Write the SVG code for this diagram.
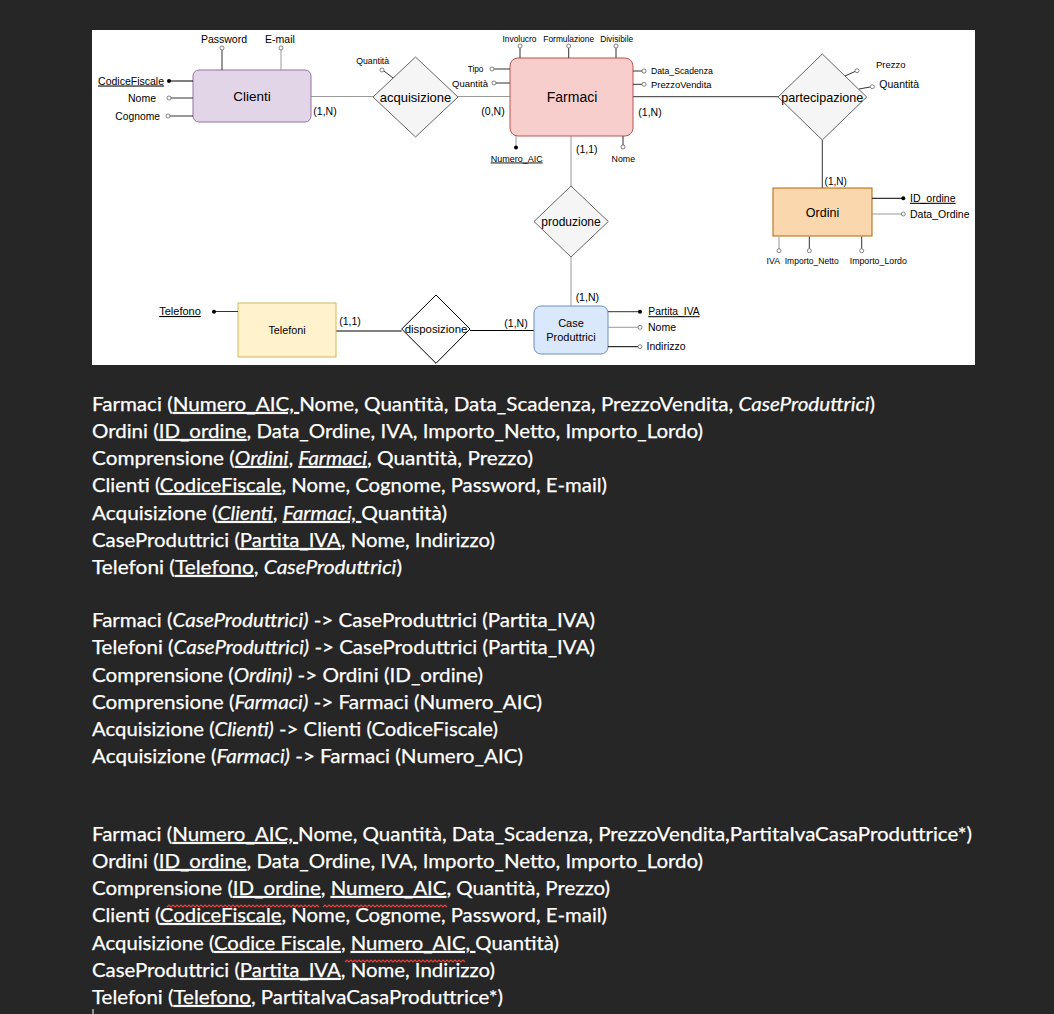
<svg xmlns="http://www.w3.org/2000/svg" width="1054" height="1014" viewBox="0 0 1054 1014">
<defs>
<style>
.ln{stroke:#333;stroke-width:1;fill:none}
.lg{stroke:#9a9a9a;stroke-width:1;fill:none}
.lk{stroke:#000;stroke-width:1;fill:none}
.oc{fill:#fff;stroke:#666;stroke-width:0.8}
.dt{fill:#000}
.t{font-family:"Liberation Sans",Arial,sans-serif;fill:#000}
.m{text-anchor:middle}
.e{text-anchor:end}
.u{text-decoration:underline}
.dia{fill:#f5f5f5;stroke:#666;stroke-width:1;stroke-linejoin:round}
.doc{font-family:Lato,"Noto Sans",sans-serif;font-size:19.5px;fill:#fff;stroke:#fff;stroke-width:0.25}
.i{font-style:italic}
.sq{stroke:#e8413b;stroke-width:1.1;fill:none}
</style>
</defs>
<rect x="0" y="0" width="1054" height="1014" fill="#262626"/>
<rect x="92" y="30" width="883" height="335" fill="#fff"/>

<g id="connectors">
<line class="lg" x1="311" y1="96.5" x2="373" y2="96.5"/>
<line class="lg" x1="458" y1="96.5" x2="510" y2="96.5"/>
<line class="ln" x1="633" y1="96.7" x2="778" y2="96.7"/>
<line class="lg" x1="571" y1="136" x2="571" y2="186"/>
<line class="ln" x1="822.3" y1="140" x2="822.3" y2="188"/>
<line class="lg" x1="571" y1="257" x2="571" y2="306"/>
<line class="lk" x1="470" y1="330.5" x2="534" y2="330.5"/>
<line class="lk" x1="336" y1="331" x2="401.7" y2="331"/>
<g class="t" font-size="10.5">
<text class="m" x="325" y="115">(1,N)</text>
<text class="m" x="493" y="115">(0,N)</text>
<text class="m" x="650" y="115.5">(1,N)</text>
<text class="m" x="586.7" y="153">(1,1)</text>
<text class="m" x="835.7" y="184.5" font-size="10">(1,N)</text>
<text class="m" x="587.3" y="300.5">(1,N)</text>
<text class="m" x="516" y="326.5">(1,N)</text>
<text class="m" x="350" y="324.5">(1,1)</text>
</g>
</g>

<g id="clienti">
<rect x="193" y="70" width="118" height="52" rx="6" fill="#e1d5e7" stroke="#9673a6"/>
<text class="t m" x="252" y="101" font-size="13.5">Clienti</text>
<line class="ln" x1="222" y1="50" x2="222" y2="70"/>
<circle class="oc" cx="222" cy="48" r="2"/>
<text class="t m" x="224" y="43" font-size="10.5">Password</text>
<line class="lg" x1="281" y1="50" x2="281" y2="70"/>
<circle class="oc" cx="281" cy="48" r="2"/>
<text class="t m" x="280" y="43" font-size="10.5">E-mail</text>
<line class="lk" x1="169" y1="81" x2="193" y2="81"/>
<circle class="dt" cx="169" cy="81" r="2"/>
<text class="t e u" x="164" y="84.5" font-size="10.5">CodiceFiscale</text>
<line class="ln" x1="171" y1="98" x2="193" y2="98"/>
<circle class="oc" cx="169" cy="98" r="2"/>
<text class="t e" x="156" y="101.5" font-size="10.5">Nome</text>
<line class="ln" x1="170" y1="116" x2="193" y2="116"/>
<circle class="oc" cx="168" cy="116" r="2"/>
<text class="t e" x="160" y="119.5" font-size="10.3">Cognome</text>
</g>

<g id="acquisizione">
<polygon class="dia" points="373,97 415.5,57 458,97 415.5,137"/>
<text class="t m" x="415.5" y="101.5" font-size="13" fill="#333">acquisizione</text>
<line class="ln" x1="384" y1="71" x2="393" y2="78"/>
<circle class="oc" cx="382" cy="70" r="2"/>
<text class="t m" x="372.7" y="64" font-size="8.7">Quantità</text>
</g>

<g id="farmaci">
<rect x="510" y="58" width="123" height="78" rx="8" fill="#f8cecc" stroke="#b85450"/>
<text class="t m" x="572" y="102" font-size="14">Farmaci</text>
<line class="ln" x1="520" y1="48" x2="520" y2="58"/>
<circle class="oc" cx="520" cy="46" r="2"/>
<text class="t m" x="519.5" y="42" font-size="8.4">Involucro</text>
<line class="ln" x1="568.7" y1="48" x2="568.7" y2="58"/>
<circle class="oc" cx="568.7" cy="46" r="2"/>
<text class="t m" x="568.7" y="42" font-size="8.4">Formulazione</text>
<line class="ln" x1="616" y1="48" x2="616" y2="58"/>
<circle class="oc" cx="616" cy="46" r="2"/>
<text class="t m" x="616.7" y="42" font-size="8.4">Divisibile</text>
<line class="ln" x1="494" y1="69" x2="510" y2="69"/>
<circle class="oc" cx="492" cy="69" r="2"/>
<text class="t e" x="483.5" y="72" font-size="8.3">Tipo</text>
<line class="ln" x1="496" y1="83" x2="510" y2="83"/>
<circle class="oc" cx="494" cy="83" r="2"/>
<text class="t e" x="488" y="86.5" font-size="9.5">Quantità</text>
<line class="lg" x1="516" y1="136" x2="516" y2="147"/>
<circle class="dt" cx="516" cy="147.5" r="2"/>
<text class="t m u" x="516.7" y="161.5" font-size="9">Numero_AIC</text>
<line class="ln" x1="623" y1="136" x2="623" y2="145"/>
<circle class="oc" cx="623" cy="147" r="2"/>
<text class="t m" x="623.3" y="161.5" font-size="8.8">Nome</text>
<line class="ln" x1="633" y1="71" x2="642" y2="71"/>
<circle class="oc" cx="644" cy="71" r="2"/>
<text class="t" x="651" y="74" font-size="8.7">Data_Scadenza</text>
<line class="ln" x1="633" y1="84.3" x2="642" y2="84.3"/>
<circle class="oc" cx="644" cy="84.3" r="2"/>
<text class="t" x="651" y="87.5" font-size="9.4">PrezzoVendita</text>
</g>

<g id="partecipazione">
<polygon class="dia" points="778,97 822.3,54 866.7,97 822.3,140"/>
<text class="t m" x="822.3" y="101.5" font-size="12.6" fill="#333">partecipazione</text>
<line class="ln" x1="845" y1="76" x2="855" y2="71.5"/>
<circle class="oc" cx="857" cy="70.7" r="2"/>
<text class="t m" x="890.7" y="67.5" font-size="9.5">Prezzo</text>
<line class="ln" x1="859" y1="89" x2="870" y2="87"/>
<circle class="oc" cx="872.3" cy="86.7" r="2"/>
<text class="t" x="879.3" y="88" font-size="10.5">Quantità</text>
</g>

<g id="ordini">
<rect x="773" y="188" width="99" height="48" fill="#fad7ac" stroke="#b46504"/>
<text class="t m" x="822.5" y="216.5" font-size="12.5">Ordini</text>
<line class="lk" x1="872" y1="198.3" x2="903" y2="198.3"/>
<circle class="dt" cx="903.3" cy="198.3" r="2"/>
<text class="t u" x="910" y="201.8" font-size="10.5">ID_ordine</text>
<line class="lg" x1="872" y1="214" x2="901" y2="214"/>
<circle class="oc" cx="903.3" cy="214" r="2"/>
<text class="t" x="910" y="217.5" font-size="10.5">Data_Ordine</text>
<line class="lg" x1="779" y1="236.7" x2="779" y2="248.7"/>
<circle class="oc" cx="779" cy="250.7" r="2"/>
<text class="t m" x="773.3" y="264" font-size="8.7">IVA</text>
<line class="ln" x1="809.3" y1="236.7" x2="809.3" y2="248.7"/>
<circle class="oc" cx="809.3" cy="250.7" r="2"/>
<text class="t m" x="811.7" y="264" font-size="8.5">Importo_Netto</text>
<line class="ln" x1="861.7" y1="236.7" x2="861.7" y2="248.7"/>
<circle class="oc" cx="861.7" cy="250.7" r="2"/>
<text class="t m" x="878.3" y="264" font-size="8.8">Importo_Lordo</text>
</g>

<g id="produzione">
<polygon class="dia" points="571,186 608.3,221.5 571,257 534,221.5"/>
<text class="t m" x="571" y="226" font-size="12" fill="#333">produzione</text>
</g>

<g id="case-produttrici">
<rect x="534" y="306" width="74" height="48" rx="7" fill="#dae8fc" stroke="#6c8ebf"/>
<text class="t m" x="571" y="327" font-size="11">Case</text>
<text class="t m" x="571" y="340.5" font-size="11">Produttrici</text>
<line class="ln" x1="608" y1="311.7" x2="640" y2="311.7"/>
<circle class="dt" cx="640" cy="311.7" r="2"/>
<text class="t u" x="648.3" y="315.2" font-size="10.3">Partita_IVA</text>
<line class="lg" x1="608" y1="327.3" x2="638" y2="327.3"/>
<circle class="oc" cx="640" cy="327.3" r="2"/>
<text class="t" x="648" y="331" font-size="10.5">Nome</text>
<line class="lk" x1="608" y1="346.7" x2="638" y2="346.7"/>
<circle class="oc" cx="640" cy="346.7" r="2"/>
<text class="t" x="646.5" y="350.3" font-size="10.5">Indirizzo</text>
</g>

<g id="disposizione">
<polygon points="401.7,329 436,295 470,329 436,363.3" fill="#fff" stroke="#000" stroke-linejoin="round"/>
<text class="t m" x="436" y="333" font-size="11.4">disposizione</text>
</g>

<g id="telefoni">
<rect x="238" y="303" width="98" height="54" fill="#fff2cc" stroke="#d6b656"/>
<text class="t m" x="287" y="334" font-size="10.8">Telefoni</text>
<line class="ln" x1="214" y1="311.5" x2="238" y2="311.5"/>
<circle class="dt" cx="214" cy="311.7" r="2"/>
<text class="t m u" x="180" y="315" font-size="11">Telefono</text>
</g>

<g id="schema-1" class="doc">
<text x="92" y="411" textLength="783" lengthAdjust="spacingAndGlyphs">Farmaci (<tspan class="u">Numero_AIC, </tspan>Nome, Quantità, Data_Scadenza, PrezzoVendita, <tspan class="i">CaseProduttrici</tspan>)</text>
<text x="92" y="438" textLength="611" lengthAdjust="spacingAndGlyphs">Ordini (<tspan class="u">ID_ordine</tspan>, Data_Ordine, IVA, Importo_Netto, Importo_Lordo)</text>
<text x="92" y="465" textLength="441" lengthAdjust="spacingAndGlyphs">Comprensione (<tspan class="u i">Ordini</tspan>, <tspan class="u i">Farmaci</tspan>, Quantità, Prezzo)</text>
<text x="92" y="492" textLength="515" lengthAdjust="spacingAndGlyphs">Clienti (<tspan class="u">CodiceFiscale</tspan>, Nome, Cognome, Password, E-mail)</text>
<text x="92" y="520" textLength="355" lengthAdjust="spacingAndGlyphs">Acquisizione (<tspan class="u i">Clienti</tspan>, <tspan class="u i">Farmaci, </tspan>Quantità)</text>
<text x="92" y="547" textLength="403" lengthAdjust="spacingAndGlyphs">CaseProduttrici (<tspan class="u">Partita_IVA</tspan>, Nome, Indirizzo)</text>
<text x="92" y="574" textLength="310" lengthAdjust="spacingAndGlyphs">Telefoni (<tspan class="u">Telefono</tspan>, <tspan class="i">CaseProduttrici</tspan>)</text>
</g>

<g id="schema-2" class="doc">
<text x="92" y="627" textLength="503" lengthAdjust="spacingAndGlyphs">Farmaci (<tspan class="i">CaseProduttrici)</tspan> -&gt; CaseProduttrici (Partita_IVA)</text>
<text x="92" y="654" textLength="503" lengthAdjust="spacingAndGlyphs">Telefoni (<tspan class="i">CaseProduttrici)</tspan> -&gt; CaseProduttrici (Partita_IVA)</text>
<text x="92" y="682" textLength="391" lengthAdjust="spacingAndGlyphs">Comprensione (<tspan class="i">Ordini)</tspan> -&gt; Ordini (ID_ordine)</text>
<text x="92" y="709" textLength="450" lengthAdjust="spacingAndGlyphs">Comprensione (<tspan class="i">Farmaci)</tspan> -&gt; Farmaci (Numero_AIC)</text>
<text x="92" y="736" textLength="406" lengthAdjust="spacingAndGlyphs">Acquisizione (<tspan class="i">Clienti)</tspan> -&gt; Clienti (CodiceFiscale)</text>
<text x="92" y="763" textLength="431" lengthAdjust="spacingAndGlyphs">Acquisizione (<tspan class="i">Farmaci)</tspan> -&gt; Farmaci (Numero_AIC)</text>
</g>

<g id="schema-3" class="doc">
<text x="92" y="841" textLength="880" lengthAdjust="spacingAndGlyphs">Farmaci (<tspan class="u">Numero_AIC, </tspan>Nome, Quantità, Data_Scadenza, PrezzoVendita,PartitaIvaCasaProduttrice*)</text>
<text x="92" y="868" textLength="611" lengthAdjust="spacingAndGlyphs">Ordini (<tspan class="u">ID_ordine</tspan>, Data_Ordine, IVA, Importo_Netto, Importo_Lordo)</text>
<text x="92" y="895" textLength="518" lengthAdjust="spacingAndGlyphs">Comprensione (<tspan class="u">ID_ordine</tspan>, <tspan class="u">Numero_AIC</tspan>, Quantità, Prezzo)</text>
<text x="92" y="922" textLength="515" lengthAdjust="spacingAndGlyphs">Clienti (<tspan class="u">CodiceFiscale</tspan>, Nome, Cognome, Password, E-mail)</text>
<text x="92" y="950" textLength="467" lengthAdjust="spacingAndGlyphs">Acquisizione (<tspan class="u">Codice Fiscale</tspan>, <tspan class="u">Numero_AIC, </tspan>Quantità)</text>
<text x="92" y="977" textLength="403" lengthAdjust="spacingAndGlyphs">CaseProduttrici (<tspan class="u">Partita_IVA</tspan>, Nome, Indirizzo)</text>
<text x="92" y="1004" textLength="411" lengthAdjust="spacingAndGlyphs">Telefoni (<tspan class="u">Telefono</tspan>, PartitaIvaCasaProduttrice*)</text>
</g>
<g id="spellcheck">
<path class="sq" d="M167,907 l2,-2 l2,2 l2,-2 l2,2 l2,-2 l2,2 l2,-2 l2,2 l2,-2 l2,2 l2,-2 l2,2 l2,-2 l2,2 l2,-2 l2,2 l2,-2 l2,2 l2,-2 l2,2 l2,-2 l2,2 l2,-2 l2,2 l2,-2 l2,2 l2,-2 l2,2 l2,-2 l2,2 l2,-2 l2,2 l2,-2 l2,2 l2,-2 l2,2 l2,-2 l2,2 l2,-2 l2,2 l2,-2 l2,2 l2,-2 l2,2 l2,-2 l2,2 l2,-2 l2,2 l2,-2 l2,2 l2,-2 l2,2 l2,-2 l2,2 l2,-2 l2,2 l2,-2 l2,2 l2,-2 l2,2 l2,-2 l2,2 l2,-2 l2,2 l2,-2 l2,2 l2,-2 l2,2 l2,-2 l2,2 l2,-2 l2,2 l2,-2 l2,2 l2,-2 l2,2"/>
<path class="sq" d="M323,907 l2,-2 l2,2 l2,-2 l2,2 l2,-2 l2,2 l2,-2 l2,2 l2,-2 l2,2 l2,-2 l2,2 l2,-2 l2,2 l2,-2 l2,2 l2,-2 l2,2 l2,-2 l2,2 l2,-2 l2,2 l2,-2 l2,2 l2,-2 l2,2 l2,-2 l2,2 l2,-2 l2,2 l2,-2 l2,2 l2,-2 l2,2 l2,-2 l2,2 l2,-2 l2,2 l2,-2 l2,2 l2,-2 l2,2 l2,-2 l2,2 l2,-2 l2,2 l2,-2 l2,2 l2,-2 l2,2 l2,-2 l2,2 l2,-2 l2,2 l2,-2 l2,2 l2,-2 l2,2 l2,-2 l2,2 l2,-2 l2,2"/>
<path class="sq" d="M345,962 l2,-2 l2,2 l2,-2 l2,2 l2,-2 l2,2 l2,-2 l2,2 l2,-2 l2,2 l2,-2 l2,2 l2,-2 l2,2 l2,-2 l2,2 l2,-2 l2,2 l2,-2 l2,2 l2,-2 l2,2 l2,-2 l2,2 l2,-2 l2,2 l2,-2 l2,2 l2,-2 l2,2 l2,-2 l2,2 l2,-2 l2,2 l2,-2 l2,2 l2,-2 l2,2 l2,-2 l2,2 l2,-2 l2,2 l2,-2 l2,2 l2,-2 l2,2 l2,-2 l2,2 l2,-2 l2,2 l2,-2 l2,2 l2,-2 l2,2 l2,-2 l2,2 l2,-2 l2,2 l2,-2 l2,2"/>
<line x1="93" y1="1009" x2="93" y2="1014" stroke="#fff" stroke-width="1"/>
</g>
</svg>
